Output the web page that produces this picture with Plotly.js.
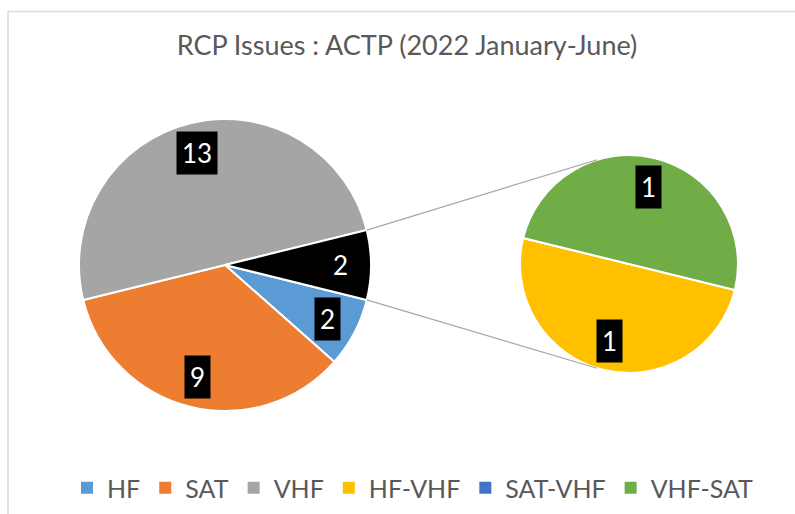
<!DOCTYPE html>
<html>
<head>
<meta charset="utf-8">
<script src="https://cdn.plot.ly/plotly-3.0.1.min.js"></script>
<style>html,body{margin:0;padding:0;background:#fff;}#chart{width:795px;height:514px;}</style>
</head>
<body>
<div id="chart"></div>
<script>
// ---- data ----
const mainLabels = ["HF", "SAT", "VHF", "Other"];
const mainValues = [2, 9, 13, 2];
const mainColors = ["#5B9BD5", "#ED7D31", "#A5A5A5", "#000000"];

const subLabels = ["HF-VHF", "SAT-VHF", "VHF-SAT"];
const subValues = [1, 0, 1];
const subColors = ["#FFC000", "#4472C4", "#70AD47"];

const legendNames = ["HF", "SAT", "VHF", "HF-VHF", "SAT-VHF", "VHF-SAT"];
const legendColors = ["#5B9BD5", "#ED7D31", "#A5A5A5", "#FFC000", "#4472C4", "#70AD47"];

const titleText = "RCP Issues : ACTP (2022 January-June)";

// ---- geometry (pixels) ----
const W = 795, H = 514;
const FONT = "Lato, Carlito, 'Open Sans', sans-serif";
const mainC = {x: 225, y: 265, r: 146};
const subC = {x: 629, y: 264, r: 109};
const px = x => x / W;
const py = y => 1 - y / H;
function domainOf(c) {
  return {x: [px(c.x - c.r), px(c.x + c.r)], y: [py(c.y + c.r), py(c.y - c.r)]};
}

const mainTotal = mainValues.reduce((a, b) => a + b, 0);
const otherVal = mainValues[mainValues.length - 1];
const halfOtherDeg = otherVal / mainTotal * 360 / 2;
const rotation = 90 + halfOtherDeg;   // clockwise from 12 o'clock

// mid angles (math convention, degrees, counter-clockwise from 3 o'clock)
function midAngles(values, rot) {
  const tot = values.reduce((a, b) => a + b, 0);
  let start = 90 - rot;
  return values.map(v => {
    const sweep = v / tot * 360;
    const mid = start - sweep / 2;
    start -= sweep;
    return mid;
  });
}

const annotations = [];
function addLabels(values, c, f) {
  const mids = midAngles(values, rotation);
  values.forEach((v, i) => {
    if (v <= 0) return;
    const a = mids[i] * Math.PI / 180;
    annotations.push({
      x: px(c.x + f * c.r * Math.cos(a)),
      y: py(c.y - f * c.r * Math.sin(a)),
      xref: "paper", yref: "paper", showarrow: false,
      text: String(v),
      font: {family: FONT, size: 26, color: "#FFFFFF"},
      bgcolor: "#000000", borderpad: 5,
      xanchor: "center", yanchor: "middle"
    });
  });
}
addLabels(mainValues, mainC, 0.79);
addLabels(subValues, subC, 0.73);

// connector lines from edges of the "Other" slice to the secondary pie
const edgeA = halfOtherDeg * Math.PI / 180;
const targetA = 107 * Math.PI / 180;
const shapes = [
  {type: "rect", xref: "paper", yref: "paper", x0: px(8), x1: px(W + 20), y0: py(H + 20), y1: py(11.5),
   line: {color: "#D9D9D9", width: 1.5}, fillcolor: "rgba(0,0,0,0)", layer: "below"},
  {type: "line", xref: "paper", yref: "paper",
   x0: px(mainC.x + mainC.r * Math.cos(edgeA)), y0: py(mainC.y - mainC.r * Math.sin(edgeA)),
   x1: px(subC.x + subC.r * Math.cos(targetA)), y1: py(subC.y - subC.r * Math.sin(targetA)),
   line: {color: "#A6A6A6", width: 1.2}},
  {type: "line", xref: "paper", yref: "paper",
   x0: px(mainC.x + mainC.r * Math.cos(-edgeA)), y0: py(mainC.y - mainC.r * Math.sin(-edgeA)),
   x1: px(subC.x + subC.r * Math.cos(-targetA)), y1: py(subC.y - subC.r * Math.sin(-targetA)),
   line: {color: "#A6A6A6", width: 1.2}}
];

const traces = [
  {type: "pie", labels: mainLabels, values: mainValues, sort: false, direction: "clockwise",
   rotation: rotation, marker: {colors: mainColors, line: {color: "#FFFFFF", width: 2}},
   textinfo: "none", hoverinfo: "label+value", showlegend: false, domain: domainOf(mainC)},
  {type: "pie", labels: subLabels, values: subValues, sort: false, direction: "clockwise",
   rotation: rotation, marker: {colors: subColors, line: {color: "#FFFFFF", width: 2}},
   textinfo: "none", hoverinfo: "label+value", showlegend: false, domain: domainOf(subC)}
];
legendNames.forEach((n, i) => {
  traces.push({type: "scatter", mode: "markers", x: [null], y: [null], name: n,
    marker: {symbol: "square", size: 12, color: legendColors[i]}, hoverinfo: "skip"});
});

const layout = {
  width: W, height: H,
  margin: {l: 0, r: 0, t: 0, b: 0},
  paper_bgcolor: "#FFFFFF", plot_bgcolor: "rgba(0,0,0,0)",
  font: {family: FONT, color: "#595959"},
  title: {text: titleText, font: {family: FONT, size: 27, color: "#595959"},
          x: px(407), xref: "paper", xanchor: "center", y: py(46), yref: "container", yanchor: "middle"},
  xaxis: {visible: false, range: [0, 1]},
  yaxis: {visible: false, range: [0, 1]},
  showlegend: true,
  legend: {orientation: "h", x: px(413), xanchor: "center", y: py(488), yanchor: "middle",
           font: {family: FONT, size: 25, color: "#595959"}, bgcolor: "rgba(0,0,0,0)"},
  shapes: shapes,
  annotations: annotations
};

Plotly.newPlot("chart", traces, layout, {displayModeBar: false, staticPlot: true});
</script>
</body>
</html>
